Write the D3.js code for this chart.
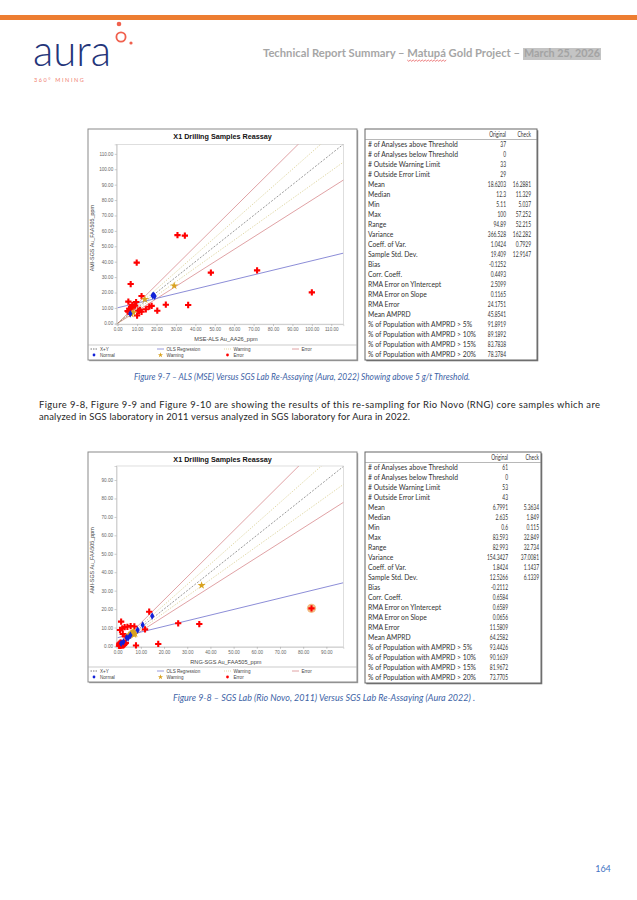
<!DOCTYPE html>
<html><head><meta charset="utf-8">
<script src="https://cdn.jsdelivr.net/npm/d3@7"></script>
<style>
html,body{margin:0;padding:0;background:#fff;}
svg{display:block;}
</style></head><body>
<svg id="page" width="637" height="900"></svg>
<script>
// ---------------- DATA ----------------
const chartTitle = "X1 Drilling Samples Reassay";
const xTitle1 = "MSE-ALS Au_AA26_ppm";
const yTitle1 = "AMI-SGS  Au_FAA505_ppm";
const xTitle2 = "RNG-SGS  Au_FAA505_ppm";
const yTitle2 = "AMI-SGS  Au_FAA505_ppm";

const ticks1 = [0,10,20,30,40,50,60,70,80,90,100,110];
const ticks2 = [0,10,20,30,40,50,60,70,80,90];

// [original, check]
const normal1 = [[18,18],[18.5,18.3],[19,17.6],[6.5,6.2]];
const warning1 = [[29.1,24.4],[14,15.6],[7,6.0],[8,7.0]];
const error1 = [[9.8,39.4],[30.8,57.25],[34.6,56.9],[48,32.9],[71.8,34.4],[6.7,25.5],[100,20.1],
  [12.3,17.7],[5.5,14.1],[24.8,12.1],[36.3,11.9],[20.4,8.2],[16.3,10.8],[14.5,9.1],[12.3,7.5],
  [10.6,8.2],[8,10.8],[6.9,10.5],[5.11,8],[5.5,7.5],[7.5,12],[9,11.5],[11.5,8.8],[9.5,13.8],
  [6,9.5],[11,7.8],[17.5,11.3],[10,5.04],[7,9.2]];

const normal2 = [[14.9,16.3],[10.8,11.4],[8.6,8.7],[3.9,4.5],[2.5,2.3],[5.5,5.8],[1.5,1.4],[4.5,4.3]];
const warning2 = [[36.2,32.85],[5.5,6.2],[6,6.8],[6.5,7.2],[7,6.2],[5,5.8],[6.2,7.0],[7.5,6.6],[4.8,5.5],[6.8,7.8]];
const error2 = [[83.59,20.4],[26.1,12.3],[35.2,11.9],[17.5,1.1],[7.9,0.3],[13.6,18.6],[11.8,9.0],[1.5,13.2],
  [1.0,8.7],[2.0,9.5],[3.0,10.2],[4.2,10.4],[5.6,10.8],[7.2,10.6],[2.2,6.5],[3.4,5.2],
  [0.6,0.2],[0.8,0.4],[0.9,0.12],[1.0,0.5],[1.1,0.3],[1.2,0.7],[1.3,0.2],[1.4,0.9],[1.5,0.5],
  [1.6,1.1],[1.7,0.4],[1.8,0.8],[1.9,1.3],[2.0,0.6],[2.1,1.0],[2.2,1.5],[2.3,0.3],[2.4,1.2],
  [2.5,0.8],[2.55,1.6],[2.6,0.5],[1.2,1.7],[0.7,1.3],[1.3,1.8],[3.2,1.4],[3.0,1.0],[3.5,1.7]];
const highlighted2 = [[83.59,20.4]];

// OLS regression [intercept, slope]
const ols1 = [10.1, 0.305];
const ols2 = [4.5, 0.306];
const warnSlopes = [1/0.9, 0.9];
const errSlopes = [1/0.8, 0.8];

const legendLineLabels = ["X+Y","OLS Regression","Warning","Error"];
const legendPointLabels = ["Normal","Warning","Error"];

const tableHeader = ["Original","Check"];
const tableLabels = ["# of Analyses above Threshold","# of Analyses below Threshold","# Outside Warning Limit",
  "# Outside Error Limit","Mean","Median","Min","Max","Range","Variance","Coeff. of Var.","Sample Std. Dev.",
  "Bias","Corr. Coeff.","RMA Error on YIntercept","RMA Error on Slope","RMA Error","Mean AMPRD",
  "% of Population with AMPRD > 5%","% of Population with AMPRD > 10%","% of Population with AMPRD > 15%",
  "% of Population with AMPRD > 20%"];
const table1Orig = ["37","0","33","29","18.6203","12.3","5.11","100","94.89","366.528","1.0424","19.409",
  "-0.1252","0.4493","2.5099","0.1165","24.1751","45.8541","91.8919","89.1892","83.7838","78.3784"];
const table1Check = ["","","","","16.2881","11.329","5.037","57.252","52.215","162.282","0.7929","12.9147",
  "","","","","","","","","",""];
const table2Orig = ["61","0","53","43","6.7991","2.635","0.6","83.593","82.993","154.3427","1.8424","12.5266",
  "-0.2112","0.6584","0.6589","0.0656","11.5809","64.2582","93.4426","90.1639","81.9672","73.7705"];
const table2Check = ["","","","","5.3634","1.849","0.115","32.849","32.734","37.0081","1.1437","6.1339",
  "","","","","","","","","",""];

const headerText = "Technical Report Summary \u2013 Matup\u00e1 Gold Project \u2013 ";
const headerDate = "March 25, 2026";
const paragraph = ["Figure 9-8, Figure 9-9 and Figure 9-10 are showing the results of this re-sampling for Rio Novo (RNG) core samples which are",
  "analyzed in SGS laboratory in 2011 versus analyzed in SGS laboratory for Aura in 2022."];
const caption1 = "Figure 9-7 \u2013 ALS (MSE) Versus SGS Lab Re-Assaying (Aura, 2022) Showing above 5 g/t Threshold.";
const caption2 = "Figure 9-8 \u2013 SGS Lab (Rio Novo, 2011) Versus SGS Lab Re-Assaying (Aura 2022) .";
const pageNumber = "164";

// ---------------- DRAW ----------------
const svg = d3.select("#page");
svg.append("rect").attr("width",637).attr("height",900).attr("fill","#fff");

// header
svg.append("rect").attr("x",0).attr("y",15).attr("width",637).attr("height",5).attr("fill","#ED7D31");
svg.append("text").attr("x",33).attr("y",66).attr("font-family","Lato").attr("font-weight",300)
  .attr("font-size",44).attr("fill","#24357a").attr("textLength",78).attr("lengthAdjust","spacingAndGlyphs").text("aura");
svg.append("circle").attr("cx",119).attr("cy",24).attr("r",2.3).attr("fill","#f0604d");
svg.append("circle").attr("cx",121).attr("cy",37).attr("r",4.6).attr("fill","none").attr("stroke","#f0604d").attr("stroke-width",1.8);
svg.append("circle").attr("cx",131).attr("cy",43).attr("r",1.6).attr("fill","#f0604d");
svg.append("text").attr("x",34).attr("y",82).attr("font-family","Lato").attr("font-size",5.5)
  .attr("letter-spacing",1.6).attr("fill","#f0806f").text("360\u00b0 MINING");

const hA = svg.append("text").attr("x",263).attr("y",57).attr("font-family","Lato").attr("font-weight",700)
  .attr("font-size",10.5).attr("fill","#a6a6a6").attr("textLength",257).attr("lengthAdjust","spacingAndGlyphs").text(headerText);
svg.append("rect").attr("x",523).attr("y",48).attr("width",78).attr("height",12).attr("fill","#c4c4c4");
svg.append("text").attr("x",524).attr("y",57).attr("font-family","Lato").attr("font-weight",700)
  .attr("font-size",10.5).attr("fill","#a3a3a3").attr("textLength",76).attr("lengthAdjust","spacingAndGlyphs").text(headerDate);
(function(){
  const n = hA.node();
  const s = headerText.indexOf("Matup");
  const x0 = n.getStartPositionOfChar(s).x, x1 = n.getEndPositionOfChar(s+5).x;
  let p = "M"+x0+",60";
  for(let x=x0, k=0; x<x1; x+=1.5, k++) p += " L"+(x+1.5)+","+(k%2?60:61.3);
  svg.append("path").attr("d",p).attr("fill","none").attr("stroke","#e0282a").attr("stroke-width",0.6);
})();

function drawChart(c){
  const g = svg.append("g");
  g.append("rect").attr("x",c.box.x+1.2).attr("y",c.box.y+1.2).attr("width",c.box.w).attr("height",c.box.h).attr("fill","#9a9a9a");
  g.append("rect").attr("x",c.box.x).attr("y",c.box.y).attr("width",c.box.w).attr("height",c.box.h)
    .attr("fill","#fff").attr("stroke","#8a8a8a").attr("stroke-width",1);
  g.append("text").attr("x",c.box.x+c.box.w/2).attr("y",c.box.y+9.5).attr("text-anchor","middle")
    .attr("font-family","Liberation Sans, Arial").attr("font-weight",700).attr("font-size",7.2).attr("fill","#111").text(chartTitle);

  const x = d3.scaleLinear().domain(c.xDom).range([c.plot.l,c.plot.r]);
  const y = d3.scaleLinear().domain(c.yDom).range([c.plot.b,c.plot.t]);
  g.append("rect").attr("x",c.plot.l).attr("y",c.plot.t).attr("width",c.plot.r-c.plot.l).attr("height",c.plot.b-c.plot.t)
    .attr("fill","#fff").attr("stroke","#c8c8c8").attr("stroke-width",0.6);

  const ya = d3.axisLeft(y).tickValues(c.ticks).tickFormat(d3.format(".2f")).tickSize(2).tickPadding(1.5);
  const xa = d3.axisBottom(x).tickValues(c.ticks).tickFormat(d3.format(".2f")).tickSize(2).tickPadding(1.5);
  const gy = g.append("g").attr("transform",`translate(${c.plot.l},0)`).call(ya);
  const gx = g.append("g").attr("transform",`translate(0,${c.plot.b})`).call(xa);
  [gx,gy].forEach(a=>{
    a.select(".domain").attr("stroke","#bbb").attr("stroke-width",0.6);
    a.selectAll(".tick line").attr("stroke","#999").attr("stroke-width",0.5);
    a.selectAll(".tick text").attr("font-family","Liberation Sans, Arial").attr("font-size",4.6).attr("fill","#666");
  });
  g.append("text").attr("x",(c.plot.l+c.plot.r)/2-4).attr("y",c.plot.b+17).attr("text-anchor","middle")
    .attr("font-family","Liberation Sans, Arial").attr("font-size",5.6).attr("fill","#444").text(c.xTitle);
  g.append("text").attr("transform",`translate(${c.box.x+6},${(c.plot.t+c.plot.b)/2+4}) rotate(-90)`).attr("text-anchor","middle")
    .attr("font-family","Liberation Sans, Arial").attr("font-size",5.4).attr("fill","#444").text(c.yTitle);

  const clipId = "clip"+c.id;
  g.append("clipPath").attr("id",clipId).append("rect").attr("x",c.plot.l).attr("y",c.plot.t)
    .attr("width",c.plot.r-c.plot.l).attr("height",c.plot.b-c.plot.t);
  const lg = g.append("g").attr("clip-path",`url(#${clipId})`);
  const xm = c.xDom[1]*1.6;
  errSlopes.forEach(s=>lg.append("line").attr("x1",x(0)).attr("y1",y(0)).attr("x2",x(xm)).attr("y2",y(s*xm))
    .attr("stroke","#d88a8e").attr("stroke-width",0.8));
  warnSlopes.forEach(s=>lg.append("line").attr("x1",x(0)).attr("y1",y(0)).attr("x2",x(xm)).attr("y2",y(s*xm))
    .attr("stroke","#d9cf93").attr("stroke-width",0.8).attr("stroke-dasharray","1.4,1.4"));
  lg.append("line").attr("x1",x(0)).attr("y1",y(0)).attr("x2",x(xm)).attr("y2",y(xm))
    .attr("stroke","#555").attr("stroke-width",0.6).attr("stroke-dasharray","2,1.5");
  lg.append("line").attr("x1",x(0)).attr("y1",y(c.ols[0])).attr("x2",x(c.xDom[1])).attr("y2",y(c.ols[0]+c.ols[1]*c.xDom[1]))
    .attr("stroke","#7f80d2").attr("stroke-width",0.9);

  const pg = g.append("g");
  (c.hi||[]).forEach(d=>pg.append("circle").attr("cx",x(d[0])).attr("cy",y(d[1])).attr("r",4.6).attr("fill","#f0b070").attr("opacity",0.85));
  pg.selectAll(".e").data(c.err).enter().append("path").attr("transform",d=>`translate(${x(d[0])},${y(d[1])})`)
    .attr("d",d3.symbol(d3.symbolCross,22)).attr("fill","#ff0000");
  pg.selectAll(".w").data(c.warn).enter().append("path").attr("transform",d=>`translate(${x(d[0])},${y(d[1])})`)
    .attr("d",d3.symbol(d3.symbolStar,20)).attr("fill","#d9a21f");
  pg.selectAll(".n").data(c.norm).enter().append("path").attr("transform",d=>`translate(${x(d[0])},${y(d[1])})`)
    .attr("d",d3.symbol(d3.symbolDiamond,16)).attr("fill","#1222d8");

  const by = c.box.y+c.box.h;
  g.append("line").attr("x1",c.box.x).attr("x2",c.box.x+c.box.w).attr("y1",by-15).attr("y2",by-15).attr("stroke","#aaa").attr("stroke-width",0.6);
  const lx = [c.box.x+2.5, c.box.x+69, c.box.x+136, c.box.x+204];
  const styles = [
    {stroke:"#555",dash:"1.5,1"},{stroke:"#7f80d2",dash:null},{stroke:"#d9cf93",dash:"1,1"},{stroke:"#d88a8e",dash:null}];
  legendLineLabels.forEach((t,i)=>{
    g.append("line").attr("x1",lx[i]).attr("x2",lx[i]+7).attr("y1",by-11).attr("y2",by-11)
      .attr("stroke",styles[i].stroke).attr("stroke-width",0.8).attr("stroke-dasharray",styles[i].dash);
    g.append("text").attr("x",lx[i]+9.5).attr("y",by-9.3).attr("font-family","Liberation Sans, Arial").attr("font-size",4.6).attr("fill","#444").text(t);
  });
  const pcol = ["#1222d8","#d9a21f","#ff0000"];
  const psym = [d3.symbolCircle,d3.symbolStar,d3.symbolCircle];
  legendPointLabels.forEach((t,i)=>{
    g.append("path").attr("transform",`translate(${lx[i]+3.5},${by-5})`).attr("d",d3.symbol(psym[i],i==1?9:6)).attr("fill",pcol[i]);
    g.append("text").attr("x",lx[i]+9.5).attr("y",by-3.3).attr("font-family","Liberation Sans, Arial").attr("font-size",4.6).attr("fill","#444").text(t);
  });
}

function drawTable(t){
  const g = svg.append("g");
  g.append("rect").attr("x",t.x+1.3).attr("y",t.y+1.3).attr("width",t.w).attr("height",t.h).attr("fill","#777");
  g.append("rect").attr("x",t.x).attr("y",t.y).attr("width",t.w).attr("height",t.h).attr("fill","#fff")
    .attr("stroke","#666").attr("stroke-width",1);
  g.append("line").attr("x1",t.x).attr("x2",t.x+t.w).attr("y1",t.y+10.5).attr("y2",t.y+10.5).attr("stroke","#888").attr("stroke-width",0.6);
  const txt = (x,y,s,anchor,fs)=>g.append("text").attr("x",x).attr("y",y).attr("text-anchor",anchor)
    .attr("font-family","Lato").attr("font-size",fs).attr("fill","#333").text(s);
  const labels = [], values = [];
  values.push(txt(t.c1,t.y+8.3,tableHeader[0],"end",6.6));
  values.push(txt(t.c2,t.y+8.3,tableHeader[1],"end",6.6));
  tableLabels.forEach((lab,i)=>{
    const yy = t.y+15.5+i*10.0+2.5;
    labels.push(txt(t.x+3,yy,lab,"start",7.2));
    values.push(txt(t.c1,yy,t.orig[i],"end",6.6));
    if(t.check[i]) values.push(txt(t.c2,yy,t.check[i],"end",6.6));
  });
  const maxLab = d3.max(labels, s=>s.node().getComputedTextLength());
  const lf = 108/maxLab;
  labels.forEach(s=>s.attr("textLength",s.node().getComputedTextLength()*lf).attr("lengthAdjust","spacingAndGlyphs"));
  const vf = 0.74;
  values.forEach(s=>s.attr("textLength",s.node().getComputedTextLength()*vf).attr("lengthAdjust","spacingAndGlyphs"));
}

drawChart({id:1, box:{x:88,y:129,w:269,h:231}, plot:{l:116.7,r:343.3,t:144.3,b:324.1},
  xDom:[-0.5,116.2], yDom:[-0.5,116.2], ticks:ticks1, xTitle:xTitle1, yTitle:yTitle1,
  err:error1, warn:warning1, norm:normal1, ols:ols1});
drawTable({x:365,y:129,w:172,h:231,c1:506,c2:531,orig:table1Orig,check:table1Check});

drawChart({id:2, box:{x:88,y:452,w:269,h:230}, plot:{l:116.5,r:343.3,t:466,b:646.9},
  xDom:[-0.5,97.3], yDom:[-0.5,97.6], ticks:ticks2, xTitle:xTitle2, yTitle:yTitle2,
  err:error2, warn:warning2, norm:normal2, ols:ols2, hi:highlighted2});
drawTable({x:365,y:452,w:176,h:231,c1:508,c2:539,orig:table2Orig,check:table2Check});

const capStyle = s=>s.attr("font-family","Lato").attr("font-style","italic").attr("font-size",8.6).attr("fill","#3d63a6");
capStyle(svg.append("text").attr("x",134).attr("y",380).attr("textLength",336).attr("lengthAdjust","spacingAndGlyphs").text(caption1));
capStyle(svg.append("text").attr("x",173).attr("y",701).attr("textLength",302).attr("lengthAdjust","spacingAndGlyphs").text(caption2));
paragraph.forEach((l,i)=>{
  svg.append("text").attr("x",39).attr("y",407.5+i*12).attr("font-family","Lato").attr("font-size",9.4).attr("fill","#262626")
    .attr("textLength",i==0?561:371).attr("lengthAdjust","spacing").text(l);
});
svg.append("text").attr("x",603).attr("y",872).attr("text-anchor","middle").attr("font-family","Lato")
  .attr("font-size",9).attr("fill","#4472c4").text(pageNumber);
</script></body></html>
